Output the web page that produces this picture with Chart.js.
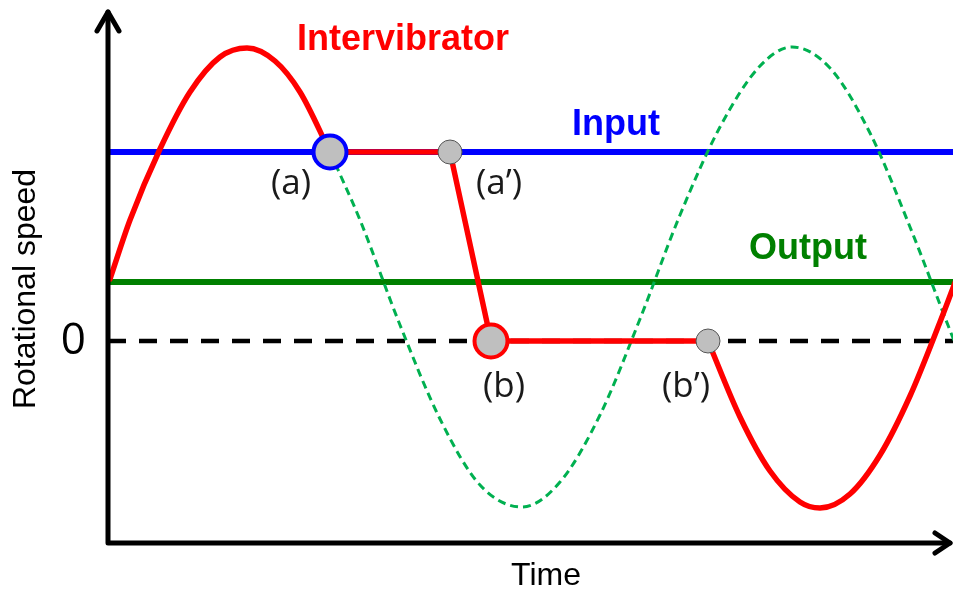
<!DOCTYPE html>
<html>
<head>
<meta charset="utf-8">
<title>Intervibrator rotational speed</title>
<script src="https://cdn.jsdelivr.net/npm/chart.js@4.4.1/dist/chart.umd.min.js"></script>
<style>
  html, body { margin: 0; padding: 0; background: #fff; overflow: hidden; }
  /* plot runs past the right edge so the time axis is open-ended */
  #wrap { width: 984px; height: 592px; }
</style>
</head>
<body>
<div id="wrap"><canvas id="myChart"></canvas></div>
<script>
// time / speed values, speed 0 = standstill
const intervibratorRiseTime  = [0.02, 0.22, 0.52, 0.82, 1.12, 1.39, 1.67, 1.92, 2.22];
const intervibratorRiseSpeed = [0.62, 1.21, 1.92, 2.49, 2.84, 2.93, 2.80, 2.49, 1.89];
const intervibratorHoldTime  = [2.22, 3.42, 3.83, 6.00];
const intervibratorHoldSpeed = [1.89, 1.89, 0, 0];
const intervibratorFallTime  = [6.00, 6.32, 6.62, 6.92, 7.12, 7.42, 7.72, 8.02, 8.32, 8.45, 8.65];
const intervibratorFallSpeed = [0, -0.76, -1.30, -1.61, -1.67, -1.53, -1.14, -0.55, 0.19, 0.53, 1.05];
const freeSwingTime  = [2.22, 2.52, 2.92, 3.32, 3.72, 4.14, 4.52, 4.92, 5.32, 5.72, 6.12, 6.52, 6.84, 7.22, 7.62, 8.02, 8.45, 8.65];
const freeSwingSpeed = [1.89, 1.21, 0.16, -0.78, -1.44, -1.66, -1.41, -0.74, 0.22, 1.26, 2.14, 2.75, 2.94, 2.73, 2.08, 1.14, 0.03, -0.46];
const inputSpeed = 1.89;
const outputSpeed = 0.59;
const zeroSpeed = 0;
const timeRange = [0, 8.76];
const speedRange = [-2.02, 3.06];
const speedTicks = [0];
const keyTime  = [2.22, 3.42, 3.83, 6.00];
const keySpeed = [1.89, 1.89, 0, 0];
const keyLabels = ['(a)', '(a’)', '(b)', '(b’)'];

function toPoints(xs, ys) {
    return xs.map(function(x, i) {
        return { x: x, y: ys[i] };
    });
}

function flat(value) {
    return [{ x: timeRange[0], y: value }, { x: timeRange[1], y: value }];
}

// arrows on the axes, names on the lines, letters at the switching points
const annotate = {
    id: 'annotate',
    afterDraw(chart) {
        const c = chart.ctx;
        const xs = chart.scales.x;
        const ys = chart.scales.y;
        const x0 = xs.getPixelForValue(0);
        const y0 = ys.getPixelForValue(speedRange[0]);
        const xTip = xs.getPixelForValue(8.42);
        const yTip = ys.getPixelForValue(3.29);

        c.save();
        c.strokeStyle = '#000';
        c.lineWidth = 5;
        c.lineCap = 'round';
        c.lineJoin = 'round';
        c.beginPath();
        c.moveTo(x0, yTip);
        c.lineTo(x0, y0);
        c.lineTo(xTip, y0);
        c.stroke();
        c.beginPath();
        c.moveTo(x0 - 11, yTip + 19);
        c.lineTo(x0, yTip);
        c.lineTo(x0 + 11, yTip + 19);
        c.moveTo(xTip - 15, y0 - 10);
        c.lineTo(xTip, y0);
        c.lineTo(xTip - 15, y0 + 10);
        c.stroke();

        c.textAlign = 'center';
        c.textBaseline = 'alphabetic';
        c.font = 'bold 36px "Liberation Sans", Arial, sans-serif';
        c.fillStyle = '#FF0000';
        c.fillText('Intervibrator', xs.getPixelForValue(2.95), ys.getPixelForValue(2.91));
        c.fillStyle = '#0000FF';
        c.fillText('Input', xs.getPixelForValue(5.08), ys.getPixelForValue(inputSpeed) - 17);
        c.fillStyle = '#008000';
        c.fillText('Output', xs.getPixelForValue(7.0), ys.getPixelForValue(outputSpeed) - 23);

        const shift = [[-39, 42], [49, 42], [13, 56], [-22, 56]];
        c.font = '35px "Open Sans", sans-serif';
        c.fillStyle = '#1a1a1a';
        keyLabels.forEach(function(label, i) {
            c.fillText(label,
                xs.getPixelForValue(keyTime[i]) + shift[i][0],
                ys.getPixelForValue(keySpeed[i]) + shift[i][1]);
        });
        c.restore();
    }
};

const line = {
    pointRadius: 0,
    fill: false,
    borderJoinStyle: 'round'
};

const ctx = document.getElementById('myChart');
const myChart = new Chart(ctx, {
    type: 'line',
    data: {
        datasets: [
            Object.assign({}, line, {
                label: 'switching points',
                data: toPoints(keyTime, keySpeed),
                showLine: false,
                pointRadius: [16.5, 12, 16.5, 12],
                pointBackgroundColor: '#BFBFBF',
                pointBorderColor: ['#0000FF', '#555555', '#FF0000', '#555555'],
                pointBorderWidth: [4, 1, 4, 1],
                order: 0
            }),
            Object.assign({}, line, {
                label: 'Intervibrator',
                data: toPoints(intervibratorRiseTime, intervibratorRiseSpeed),
                borderColor: '#FF0000',
                borderWidth: 5.5,
                borderCapStyle: 'round',
                cubicInterpolationMode: 'monotone',
                order: 1
            }),
            Object.assign({}, line, {
                label: 'Intervibrator hold',
                data: toPoints(intervibratorHoldTime, intervibratorHoldSpeed),
                borderColor: '#FF0000',
                borderWidth: 5.5,
                tension: 0,
                order: 2
            }),
            Object.assign({}, line, {
                label: 'Intervibrator release',
                data: toPoints(intervibratorFallTime, intervibratorFallSpeed),
                borderColor: '#FF0000',
                borderWidth: 5.5,
                cubicInterpolationMode: 'monotone',
                order: 3
            }),
            Object.assign({}, line, {
                label: 'free swing',
                data: toPoints(freeSwingTime, freeSwingSpeed),
                borderColor: '#00B050',
                borderWidth: 3,
                borderDash: [8, 5],
                cubicInterpolationMode: 'monotone',
                order: 4
            }),
            Object.assign({}, line, {
                label: 'Input',
                data: flat(inputSpeed),
                borderColor: '#0000FF',
                borderWidth: 6,
                order: 5
            }),
            Object.assign({}, line, {
                label: 'Output',
                data: flat(outputSpeed),
                borderColor: '#008000',
                borderWidth: 6,
                order: 6
            }),
            Object.assign({}, line, {
                label: 'zero',
                data: flat(zeroSpeed),
                borderColor: '#000000',
                borderWidth: 4.5,
                borderDash: [18, 13],
                order: 7
            })
        ]
    },
    options: {
        responsive: true,
        maintainAspectRatio: false,
        animation: false,
        events: [],
        layout: { autoPadding: false, padding: { top: 35, right: 0, bottom: 0, left: 0 } },
        plugins: {
            legend: { display: false },
            tooltip: { enabled: false }
        },
        scales: {
            x: {
                type: 'linear',
                min: timeRange[0],
                max: timeRange[1],
                grid: { display: false, drawTicks: false },
                border: { display: false },
                ticks: { display: false },
                title: {
                    display: true,
                    text: 'Time',
                    color: '#000',
                    padding: 0,
                    font: { family: '"Liberation Sans", Arial, sans-serif', size: 32, lineHeight: 1 }
                },
                afterFit: function(scale) {
                    scale.height = 49;
                    scale.paddingLeft = 0;
                    scale.paddingRight = 0;
                }
            },
            y: {
                type: 'linear',
                min: speedRange[0],
                max: speedRange[1],
                grid: { display: false, drawTicks: false },
                border: { display: false },
                afterBuildTicks: function(scale) {
                    scale.ticks = speedTicks.map(function(v) { return { value: v }; });
                },
                ticks: {
                    color: '#000',
                    padding: 22,
                    font: { family: '"Open Sans", sans-serif', size: 44 }
                },
                title: {
                    display: true,
                    text: 'Rotational speed',
                    color: '#000',
                    padding: { top: 10, bottom: 0 },
                    font: { family: '"Liberation Sans", Arial, sans-serif', size: 32, lineHeight: 1 }
                },
                afterFit: function(scale) {
                    scale.width = 108;
                    scale.paddingTop = 0;
                    scale.paddingBottom = 0;
                }
            }
        }
    },
    plugins: [annotate]
});
</script>
</body>
</html>
